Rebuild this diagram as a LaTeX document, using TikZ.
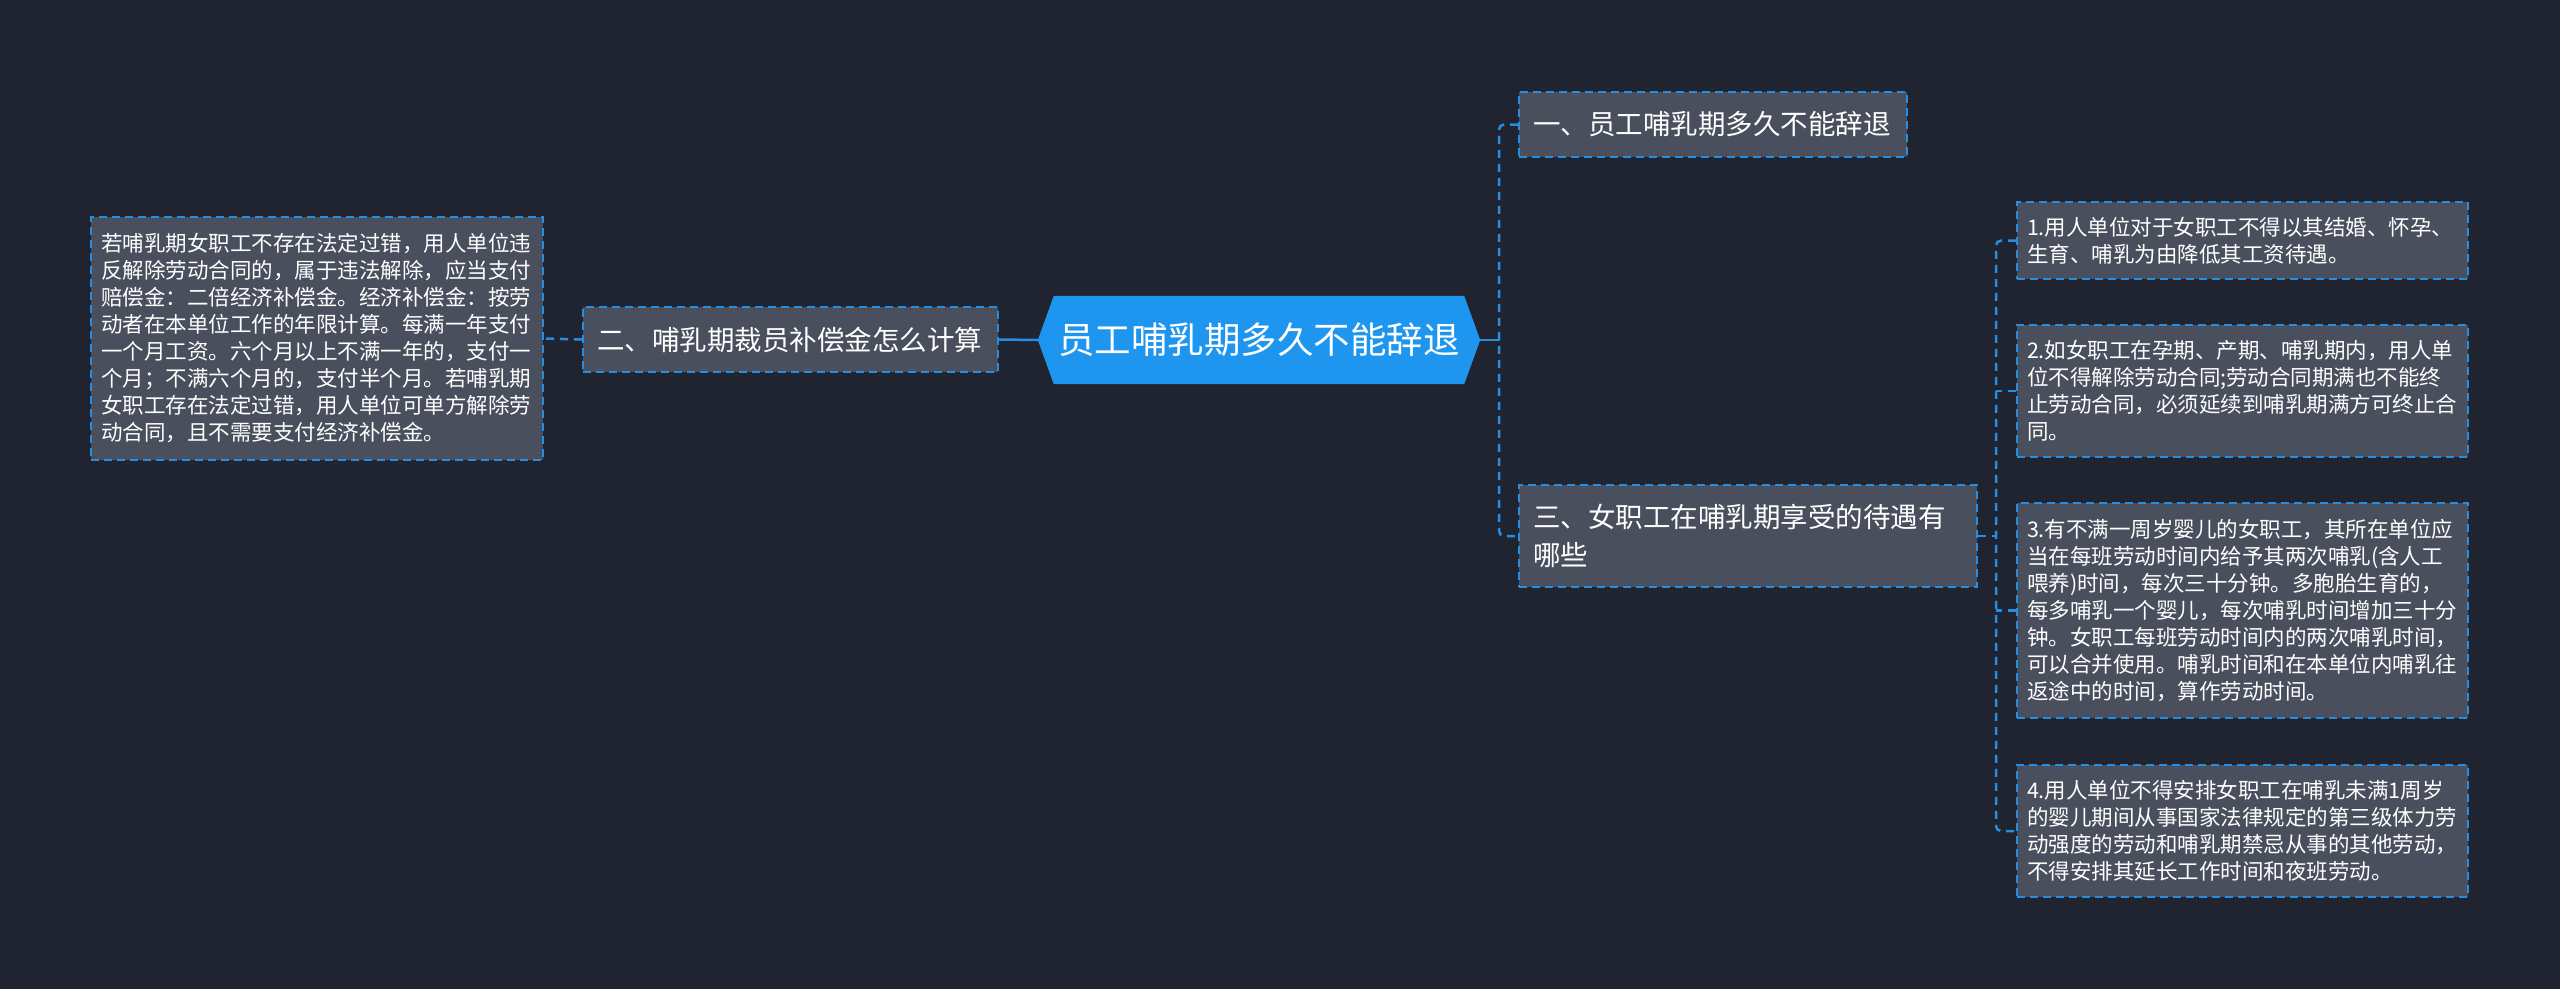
\documentclass[tikz,border=0pt]{standalone}
\usepackage{fontspec}
\setmainfont{Noto Sans CJK SC}
\definecolor{bgcol}{RGB}{32,36,48}
\definecolor{boxfill}{RGB}{74,79,94}
\definecolor{linkblue}{RGB}{36,143,226}
\definecolor{rootblue}{RGB}{30,150,240}
\pgfdeclarelayer{bg}
\pgfdeclarelayer{mid}
\pgfsetlayers{bg,mid,main}
\tikzset{
 box/.style={draw=linkblue, fill=boxfill, dash pattern=on 8pt off 5pt, line width=2pt, text=white, align=left, inner ysep=0pt, anchor=center},
 lvl/.style={box, font=\fontsize{27.5}{38}\selectfont, inner xsep=14pt},
 leaf/.style={box, font=\fontsize{21.5}{27}\selectfont, inner xsep=10pt},
 rootnode/.style={text=white, font=\fontsize{36.5}{40}\selectfont, inner sep=0pt, minimum width=442pt, minimum height=88pt, anchor=center},
 link/.style={draw=linkblue, line width=2.5pt, dash pattern=on 8pt off 6pt, rounded corners=5pt},
 solidlink/.style={draw=linkblue, line width=2.5pt},
}
\begin{document}
\begin{tikzpicture}[x=1pt,y=-1pt]
\useasboundingbox (0,0) rectangle (2560,989);
\begin{pgfonlayer}{bg}
\fill[bgcol] (0,0) rectangle (2560,989);
\end{pgfonlayer}

% root
\node[rootnode] (root) at (1259,340) {员工哺乳期多久不能辞退};
\begin{pgfonlayer}{mid}
\fill[rootblue] (root.west) -- ([xshift=16pt]root.north west) -- ([xshift=-16pt]root.north east) -- (root.east) -- ([xshift=-16pt]root.south east) -- ([xshift=16pt]root.south west) -- cycle;
\end{pgfonlayer}

% level 1
\node[lvl, text width=387pt, minimum height=65pt] (n2) at (790.5,339.5) {二、哺乳期裁员补偿金怎么计算};
\node[lvl, text width=360pt, minimum height=65pt] (n1) at (1713,124.5) {一、员工哺乳期多久不能辞退};
\node[lvl, text width=430pt, minimum height=102pt] (n3) at (1748,536) {三、女职工在哺乳期享受的待遇有\\哪些};

% leaves
\node[leaf, text width=432pt, minimum height=243pt] (lL) at (317,338.5) {若哺乳期女职工不存在法定过错，用人单位违\\反解除劳动合同的，属于违法解除，应当支付\\赔偿金：二倍经济补偿金。经济补偿金：按劳\\动者在本单位工作的年限计算。每满一年支付\\一个月工资。六个月以上不满一年的，支付一\\个月；不满六个月的，支付半个月。若哺乳期\\女职工存在法定过错，用人单位可单方解除劳\\动合同，且不需要支付经济补偿金。};
\node[leaf, text width=431pt, minimum height=77pt] (l1) at (2242.5,240.5) {1.用人单位对于女职工不得以其结婚、怀孕、\\生育、哺乳为由降低其工资待遇。};
\node[leaf, text width=431pt, minimum height=132pt] (l2) at (2242.5,391) {2.如女职工在孕期、产期、哺乳期内，用人单\\位不得解除劳动合同;劳动合同期满也不能终\\止劳动合同，必须延续到哺乳期满方可终止合\\同。};
\node[leaf, text width=431pt, minimum height=215pt] (l3) at (2242.5,610.5) {3.有不满一周岁婴儿的女职工，其所在单位应\\当在每班劳动时间内给予其两次哺乳(含人工\\喂养)时间，每次三十分钟。多胞胎生育的，\\每多哺乳一个婴儿，每次哺乳时间增加三十分\\钟。女职工每班劳动时间内的两次哺乳时间，\\可以合并使用。哺乳时间和在本单位内哺乳往\\返途中的时间，算作劳动时间。};
\node[leaf, text width=431pt, minimum height=132pt] (l4) at (2242.5,831) {4.用人单位不得安排女职工在哺乳未满1周岁\\的婴儿期间从事国家法律规定的第三级体力劳\\动强度的劳动和哺乳期禁忌从事的其他劳动，\\不得安排其延长工作时间和夜班劳动。};

% connectors
\coordinate (jR) at (1500,340);
\coordinate (jL) at (1997,536);
\draw[solidlink] (root.east) -- (jR);
\draw[link] (n1.west) -- ++(-19,0) |- (n3.west);
\draw[solidlink] (root.west) -- (n2.east);
\draw[link] (n2.west) -- (lL.east);
\draw[link] (n3.east) -- (jL);
\draw[link] (l1.west) -- ++(-20,0) |- (l4.west);
\draw[link] (l2.west) -- ++(-20,0);
\draw[link] (l3.west) -- ++(-20,0);
\end{tikzpicture}
\end{document}
